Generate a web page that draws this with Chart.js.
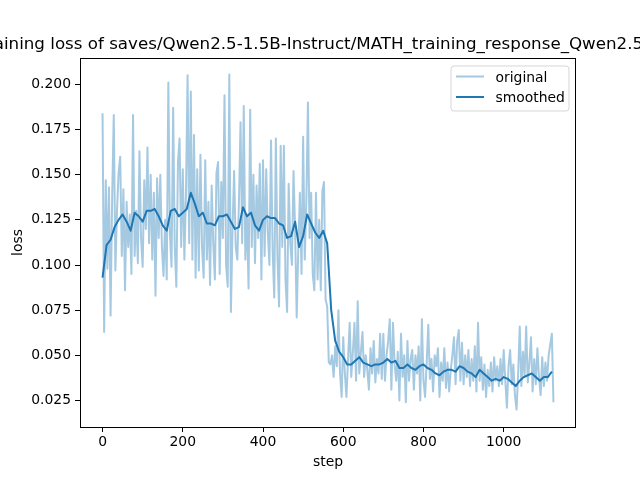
<!DOCTYPE html>
<html>
<head>
<meta charset="utf-8">
<script src="https://cdn.jsdelivr.net/npm/chart.js@4.4.1/dist/chart.umd.min.js"></script>
<style>
  html, body { margin: 0; padding: 0; background: #fff; }
  canvas { display: block; }
</style>
</head>
<body>
<canvas id="loss_chart" width="640" height="480"></canvas>
<script>
// values
const titleText = 'training loss of saves/Qwen2.5-1.5B-Instruct/MATH_training_response_Qwen2.5-1.5'
const xTicks = [0, 200, 400, 600, 800, 1000]
const yTicks = [0.025, 0.050, 0.075, 0.100, 0.125, 0.150, 0.175, 0.200]

// original loss, one value every 4 steps (0 .. 1124)
const origStep = 4
const original = [
  0.184, 0.063, 0.147, 0.098, 0.143, 0.072, 0.138, 0.183, 0.097, 0.130, 0.151, 0.160, 0.105, 0.142, 0.086, 0.135, 0.110, 0.128, 0.095, 0.183, 0.105, 0.130, 0.101, 0.163, 0.115,
  0.099, 0.147, 0.120, 0.165, 0.112, 0.150, 0.103, 0.140, 0.083, 0.148, 0.115, 0.150, 0.110, 0.094, 0.125, 0.092, 0.201, 0.117, 0.099, 0.187, 0.110, 0.088, 0.157, 0.170, 0.110,
  0.153, 0.103, 0.140, 0.205, 0.112, 0.196, 0.103, 0.172, 0.093, 0.153, 0.097, 0.161, 0.110, 0.093, 0.158, 0.103, 0.135, 0.089, 0.144, 0.112, 0.092, 0.151, 0.157, 0.095, 0.146,
  0.115, 0.194, 0.100, 0.088, 0.2055, 0.074, 0.120, 0.152, 0.110, 0.103, 0.135, 0.179, 0.112, 0.188, 0.103, 0.128, 0.087, 0.186, 0.110, 0.150, 0.101, 0.144, 0.115, 0.156, 0.092,
  0.158, 0.105, 0.153, 0.118, 0.100, 0.169, 0.108, 0.082, 0.170, 0.105, 0.077, 0.166, 0.110, 0.166, 0.092, 0.074, 0.145, 0.112, 0.100, 0.152, 0.120, 0.071, 0.110, 0.140, 0.095,
  0.171, 0.103, 0.135, 0.190, 0.115, 0.140, 0.095, 0.086, 0.140, 0.092, 0.125, 0.086, 0.141, 0.146, 0.081, 0.077, 0.046, 0.045, 0.050, 0.038, 0.055, 0.044, 0.075, 0.040, 0.027,
  0.060, 0.040, 0.027, 0.048, 0.068, 0.038, 0.052, 0.068, 0.036, 0.080, 0.040, 0.052, 0.063, 0.038, 0.050, 0.042, 0.031, 0.054, 0.040, 0.058, 0.035, 0.048, 0.040, 0.062, 0.037,
  0.062, 0.036, 0.050, 0.058, 0.070, 0.031, 0.068, 0.045, 0.036, 0.052, 0.025, 0.062, 0.038, 0.050, 0.024, 0.058, 0.036, 0.048, 0.053, 0.031, 0.050, 0.040, 0.055, 0.025, 0.070,
  0.036, 0.027, 0.046, 0.067, 0.037, 0.048, 0.030, 0.050, 0.044, 0.054, 0.027, 0.046, 0.036, 0.054, 0.032, 0.046, 0.030, 0.042, 0.050, 0.060, 0.034, 0.058, 0.064, 0.036, 0.057,
  0.034, 0.050, 0.038, 0.053, 0.033, 0.048, 0.036, 0.055, 0.030, 0.068, 0.036, 0.049, 0.031, 0.045, 0.027, 0.042, 0.033, 0.046, 0.030, 0.049, 0.036, 0.044, 0.033, 0.048, 0.034,
  0.053, 0.036, 0.021, 0.044, 0.053, 0.034, 0.045, 0.028, 0.020, 0.040, 0.066, 0.033, 0.052, 0.038, 0.066, 0.035, 0.046, 0.060, 0.030, 0.048, 0.034, 0.054, 0.038, 0.028, 0.049,
  0.033, 0.046, 0.036, 0.050, 0.056, 0.062, 0.024
]

// smoothed loss, one value every 10 steps (0 .. 1120)
const smoothStep = 10
const smoothed = [
  0.093, 0.111, 0.114, 0.121, 0.125, 0.128, 0.124, 0.119, 0.129, 0.127,
  0.124, 0.130, 0.130, 0.131, 0.127, 0.122, 0.119, 0.130, 0.131, 0.127,
  0.129, 0.131, 0.140, 0.134, 0.127, 0.129, 0.123, 0.123, 0.122, 0.127,
  0.127, 0.128, 0.124, 0.120, 0.121, 0.132, 0.127, 0.129, 0.122, 0.119,
  0.125, 0.127, 0.126, 0.126, 0.123, 0.122, 0.115, 0.116, 0.124, 0.110,
  0.116, 0.128, 0.123, 0.118, 0.115, 0.119, 0.112, 0.075, 0.058, 0.052,
  0.049, 0.045, 0.045, 0.047, 0.049, 0.046, 0.045, 0.044, 0.045, 0.045,
  0.046, 0.048, 0.046, 0.047, 0.043, 0.043, 0.045, 0.043, 0.042, 0.044,
  0.045, 0.043, 0.042, 0.040, 0.039, 0.041, 0.042, 0.042, 0.041, 0.044,
  0.043, 0.041, 0.040, 0.038, 0.042, 0.040, 0.038, 0.036, 0.037, 0.036,
  0.038, 0.037, 0.035, 0.033, 0.036, 0.038, 0.039, 0.040, 0.038, 0.036,
  0.038, 0.038, 0.041
]

const blue = '#1f77b4'
const font = '"DejaVu Sans", sans-serif'

// axes frame, title, axis labels and legend drawn matplotlib-style
const decor = {
  id: 'decor',
  afterDraw(chart) {
    const ctx = chart.ctx
    const a = chart.chartArea
    ctx.save()
    ctx.strokeStyle = '#000'
    ctx.lineWidth = 1
    ctx.strokeRect(a.left + 0.5, a.top + 0.5, a.right - a.left - 1, a.bottom - a.top)

    ctx.fillStyle = '#000'
    ctx.textAlign = 'center'
    ctx.textBaseline = 'alphabetic'
    ctx.font = '16.7px ' + font
    ctx.fillText(titleText, (a.left + a.right) / 2, 49)

    ctx.font = '13.9px ' + font
    ctx.fillText('step', (a.left + a.right) / 2, 466)
    ctx.save()
    ctx.translate(22, (a.top + a.bottom) / 2)
    ctx.rotate(-Math.PI / 2)
    ctx.fillText('loss', 0, 0)
    ctx.restore()

    // legend
    ctx.beginPath()
    ctx.roundRect(451, 66, 118, 45, 3)
    ctx.fillStyle = 'rgba(255,255,255,0.8)'
    ctx.fill()
    ctx.strokeStyle = 'rgba(204,204,204,0.8)'
    ctx.stroke()
    const items = [
      { label: 'original', color: 'rgba(31,119,180,0.4)', y: 76.5 },
      { label: 'smoothed', color: blue, y: 97 }
    ]
    ctx.textAlign = 'left'
    ctx.lineWidth = 2
    for (const it of items) {
      ctx.strokeStyle = it.color
      ctx.beginPath()
      ctx.moveTo(456, it.y)
      ctx.lineTo(484, it.y)
      ctx.stroke()
      ctx.fillStyle = '#000'
      ctx.fillText(it.label, 495.5, it.y + 5)
    }
    ctx.restore()
  }
}

const ctx = document.getElementById('loss_chart').getContext('2d')
const chart = new Chart(ctx, {
  type: 'line',
  data: {
    datasets: [
      {
        label: 'original',
        data: original.map((v, i) => ({ x: i * origStep, y: v })),
        borderColor: 'rgba(31,119,180,0.4)',
        borderWidth: 2,
        pointRadius: 0,
        tension: 0,
        borderJoinStyle: 'round',
      },
      {
        label: 'smoothed',
        data: smoothed.map((v, i) => ({ x: i * smoothStep, y: v })),
        borderColor: blue,
        borderWidth: 2,
        pointRadius: 0,
        tension: 0,
        borderJoinStyle: 'round',
      },
    ],
  },
  options: {
    responsive: false,
    animation: false,
    devicePixelRatio: 1,
    layout: { padding: { left: 0, right: 64, top: 58, bottom: 0 } },
    plugins: {
      legend: { display: false },
      title: { display: false },
      tooltip: { enabled: false },
    },
    scales: {
      x: {
        type: 'linear',
        min: -56.2,
        max: 1180.2,
        afterFit: (s) => { s.height = 53 },
        afterBuildTicks: (s) => { s.ticks = xTicks.map(v => ({ value: v })) },
        ticks: { color: '#000', font: { family: font, size: 13.9 }, padding: 2, maxRotation: 0, autoSkip: false, callback: v => String(v) },
        grid: { drawOnChartArea: false, drawTicks: true, tickLength: 5, color: '#000' },
        border: { display: false },
      },
      y: {
        type: 'linear',
        min: 0.01035,
        max: 0.2146,
        afterFit: (s) => { s.width = 80 },
        afterBuildTicks: (s) => { s.ticks = yTicks.map(v => ({ value: v })) },
        ticks: { color: '#000', font: { family: font, size: 13.9 }, padding: 4, autoSkip: false, callback: v => v.toFixed(3) },
        grid: { drawOnChartArea: false, drawTicks: true, tickLength: 5, color: '#000' },
        border: { display: false },
      },
    },
  },
  plugins: [decor],
})
</script>
</body>
</html>
